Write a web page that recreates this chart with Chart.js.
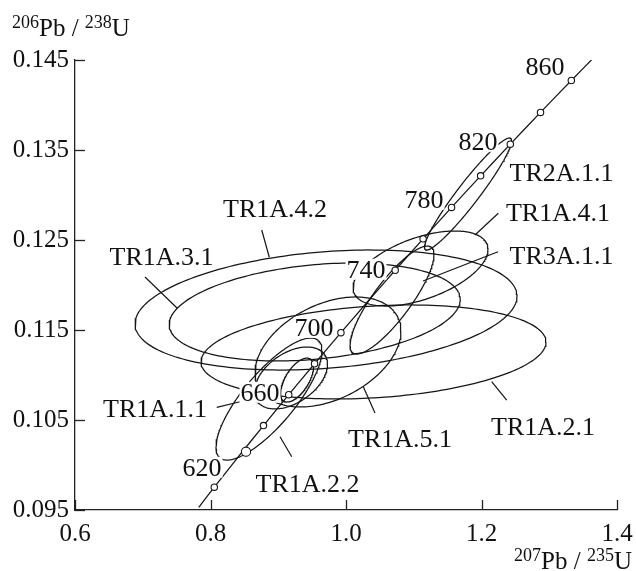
<!DOCTYPE html>
<html><head><meta charset="utf-8">
<script src="https://cdn.jsdelivr.net/npm/chart.js@4/dist/chart.umd.min.js"></script>
<style>html,body{margin:0;padding:0;background:#fff}#wrap{width:636px;height:571px;position:relative}</style>
</head><body><div id="wrap"><canvas id="c" width="636" height="571"></canvas></div>
<script>
// ---- axis ticks ----
const xTicks = [0.6, 0.8, 1.0, 1.2, 1.4];
const xTickLabels = ['0.6', '0.8', '1.0', '1.2', '1.4'];
const yTicks = [0.095, 0.105, 0.115, 0.125, 0.135, 0.145];
const yTickLabels = ['0.095', '0.105', '0.115', '0.125', '0.135', '0.145'];

// ---- concordia curve (207Pb/235U, 206Pb/238U), ~587..873 Ma ----
const concordiaX = [0.7827, 0.8056, 0.8415, 0.8782, 0.9155, 0.9536, 0.9925, 1.0321, 1.0726, 1.1138, 1.1558, 1.1987, 1.2425, 1.2871, 1.3326, 1.3625];
const concordiaY = [0.0953, 0.09754, 0.10095, 0.10438, 0.10781, 0.11125, 0.11470, 0.11817, 0.12164, 0.12513, 0.12862, 0.13213, 0.13565, 0.13918, 0.14272, 0.14502];

// ---- age markers on concordia ----
const markerAges = [600, 620, 640, 660, 680, 700, 740, 760, 780, 800, 820, 840, 860];
const markerX = [0.8056, 0.8524, 0.8782, 0.9155, 0.9536, 0.9925, 1.0726, 1.1138, 1.1558, 1.1987, 1.2425, 1.2871, 1.3326];
const markerY = [0.09754, 0.10148, 0.10438, 0.10781, 0.11125, 0.11470, 0.12164, 0.12513, 0.12862, 0.13213, 0.13565, 0.13918, 0.14272];
const markerBig = [false, true, false, false, false, false, false, false, false, false, false, false, false];

// ---- age labels ----
const ageLabels = ['620', '660', '700', '740', '780', '820', '860'];
const ageLabelX = [0.7875, 0.8731, 0.9528, 1.0295, 1.1151, 1.1948, 1.2937];
const ageLabelY = [0.09978, 0.10811, 0.11533, 0.12178, 0.12956, 0.1360, 0.14433];

// ---- error ellipses (centre, half-extent x/y, correlation) ----
const ellipseNames = ['TR1A.4.2', 'TR1A.3.1', 'TR1A.2.1', 'TR1A.5.1', 'TR1A.4.1', 'TR3A.1.1', 'TR2A.1.1', 'TR1A.1.1', 'TR1A.1.1b', 'TR1A.2.2'];
const ellipseCX = [0.9705, 0.9538, 1.0406, 0.9734, 1.110, 1.0679, 1.1801, 0.9188, 0.9277, 0.8863];
const ellipseCY = [0.11722, 0.1170, 0.11256, 0.11256, 0.12183, 0.11833, 0.13011, 0.10967, 0.10944, 0.10733];
const ellipseSX = [0.2819, 0.2148, 0.2546, 0.1077, 0.0996, 0.0620, 0.0642, 0.0539, 0.0244, 0.0782];
const ellipseSY = [0.00667, 0.00544, 0.00522, 0.00611, 0.00417, 0.0060, 0.00622, 0.00344, 0.00244, 0.00678];
const ellipseRho = [0.23, 0.255, 0.21, 0.38, 0.51, 0.84, 0.95, 0.44, 0.6, 0.79];

// ---- sample labels and leader lines ----
const sampleLabels = ['TR2A.1.1', 'TR1A.4.1', 'TR3A.1.1', 'TR1A.4.2', 'TR1A.3.1', 'TR1A.1.1', 'TR1A.5.1', 'TR1A.2.1', 'TR1A.2.2'];
const sampleLabelX = [1.3181, 1.3129, 1.3181, 0.8952, 0.7277, 0.7181, 1.0797, 1.2908, 0.9432];
const sampleLabelY = [0.13256, 0.12811, 0.12333, 0.12856, 0.12322, 0.10633, 0.1030, 0.10433, 0.0980];
const leaderX1 = [null, 1.2248, 1.2244, 0.8756, 0.7033, 0.8092, 1.0255, 1.2150, 0.9026];
const leaderY1 = [null, 0.12797, 0.12370, 0.12611, 0.12089, 0.10641, 0.1087, 0.10926, 0.10314];
const leaderX2 = [null, 1.1904, 1.1137, 0.8868, 0.7506, 0.8435, 1.0428, 1.2372, 0.9199];
const leaderY2 = [null, 0.12556, 0.12044, 0.12308, 0.11744, 0.10703, 0.10578, 0.10722, 0.10092];

const INK = '#151515';
const FONT = '"Liberation Serif", "Times New Roman", serif';

function ellipsePoints(i) {
  const pts = [];
  const n = 200, r = ellipseRho[i], q = Math.sqrt(1 - r * r);
  for (let k = 0; k <= n; k++) {
    const t = 2 * Math.PI * k / n;
    pts.push({
      x: ellipseCX[i] + ellipseSX[i] * Math.cos(t),
      y: ellipseCY[i] + ellipseSY[i] * (r * Math.cos(t) + q * Math.sin(t))
    });
  }
  return pts;
}

const datasets = [];
datasets.push({
  label: 'markers',
  data: markerX.map((x, i) => ({ x, y: markerY[i] })),
  showLine: false,
  pointStyle: 'circle',
  pointRadius: markerBig.map(b => b ? 4.6 : 3.2),
  pointBackgroundColor: '#fff',
  pointBorderColor: INK,
  pointBorderWidth: 1.1,
  order: 0
});
datasets.push({
  label: 'concordia',
  data: concordiaX.map((x, i) => ({ x, y: concordiaY[i] })),
  showLine: true, pointRadius: 0, borderColor: INK, borderWidth: 1.25, tension: 0.2, fill: false,
  order: 1
});
ellipseNames.forEach((n, i) => {
  datasets.push({
    label: n, data: ellipsePoints(i), showLine: true, pointRadius: 0,
    borderColor: INK, borderWidth: 1.25, tension: 0, fill: false, order: 2
  });
});

const overlay = {
  id: 'overlay',
  afterDatasetsDraw(chart) {
    const ctx = chart.ctx, xs = chart.scales.x, ys = chart.scales.y, ca = chart.chartArea;
    ctx.save();
    ctx.strokeStyle = INK; ctx.lineWidth = 1.2;
    // leader lines
    for (let i = 0; i < sampleLabels.length; i++) {
      if (leaderX1[i] === null) continue;
      ctx.beginPath();
      ctx.moveTo(xs.getPixelForValue(leaderX1[i]), ys.getPixelForValue(leaderY1[i]));
      ctx.lineTo(xs.getPixelForValue(leaderX2[i]), ys.getPixelForValue(leaderY2[i]));
      ctx.stroke();
    }
    // labels with white background
    ctx.font = '26px ' + FONT;
    ctx.textAlign = 'center';
    ctx.textBaseline = 'alphabetic';
    const drawLabel = (t, x, y) => {
      const px = xs.getPixelForValue(x), py = ys.getPixelForValue(y);
      const m = ctx.measureText(t);
      const base = py + 8.8;
      ctx.fillStyle = '#fff';
      ctx.fillRect(px - m.width / 2 - 1, base - 19, m.width + 2, 21);
      ctx.fillStyle = '#111';
      ctx.fillText(t, px, base);
    };
    ageLabels.forEach((t, i) => drawLabel(t, ageLabelX[i], ageLabelY[i]));
    sampleLabels.forEach((t, i) => drawLabel(t, sampleLabelX[i], sampleLabelY[i]));
    // inward tick marks
    ctx.strokeStyle = '#222'; ctx.lineWidth = 1.3;
    yTicks.forEach(v => {
      const py = Math.round(ys.getPixelForValue(v)) + 0.5;
      ctx.beginPath(); ctx.moveTo(ca.left, py); ctx.lineTo(ca.left + 10, py); ctx.stroke();
    });
    xTicks.forEach(v => {
      const px = Math.round(xs.getPixelForValue(v)) + 0.5;
      ctx.beginPath(); ctx.moveTo(px, ca.bottom); ctx.lineTo(px, ca.bottom - 10); ctx.stroke();
    });
    // axis titles with superscripts
    ctx.fillStyle = '#111';
    ctx.textAlign = 'left';
    const parts = (a, b, c, d) => [[a, 18, -8], [b, 25, 0], [c, 18, -8], [d, 25, 0]];
    const drawTitle = (segs, x, base) => {
      let cx = x;
      segs.forEach(([t, s, dy]) => {
        ctx.font = s + 'px ' + FONT;
        ctx.fillText(t, cx, base + dy);
        cx += ctx.measureText(t).width;
      });
    };
    const measure = segs => segs.reduce((w, [t, s]) => { ctx.font = s + 'px ' + FONT; return w + ctx.measureText(t).width; }, 0);
    const yT = parts('206', 'Pb / ', '238', 'U');
    drawTitle(yT, 12, 35.5);
    const xT = parts('207', 'Pb / ', '235', 'U');
    drawTitle(xT, 632 - measure(xT), 569);
    ctx.restore();
  }
};

new Chart(document.getElementById('c'), {
  type: 'scatter',
  data: { datasets },
  options: {
    responsive: false,
    animation: false,
    devicePixelRatio: 1,
    layout: { padding: { top: 60, right: 19, left: 0, bottom: 0 } },
    plugins: { legend: { display: false }, tooltip: { enabled: false } },
    scales: {
      x: {
        type: 'linear', min: 0.6, max: 1.4,
        afterBuildTicks: s => { s.ticks = xTicks.map(v => ({ value: v })); },
        afterFit: s => { s.height = 61; s.paddingLeft = 0; s.paddingRight = 0; },
        grid: { display: false, drawTicks: false },
        border: { display: true, color: '#222', width: 1.3 },
        ticks: {
          padding: 9, color: '#111', font: { family: FONT, size: 25 }, maxRotation: 0, autoSkip: false,
          callback: (v) => xTickLabels[xTicks.findIndex(t => Math.abs(t - v) < 1e-9)]
        }
      },
      y: {
        type: 'linear', min: 0.095, max: 0.145,
        afterBuildTicks: s => { s.ticks = yTicks.map(v => ({ value: v })); },
        afterFit: s => { s.width = 75; s.paddingTop = 0; s.paddingBottom = 0; },
        grid: { display: false, drawTicks: false },
        border: { display: true, color: '#222', width: 1.3 },
        ticks: {
          padding: 6, color: '#111', font: { family: FONT, size: 25 }, autoSkip: false,
          callback: (v) => yTickLabels[yTicks.findIndex(t => Math.abs(t - v) < 1e-9)]
        }
      }
    }
  },
  plugins: [overlay]
});
</script></body></html>
